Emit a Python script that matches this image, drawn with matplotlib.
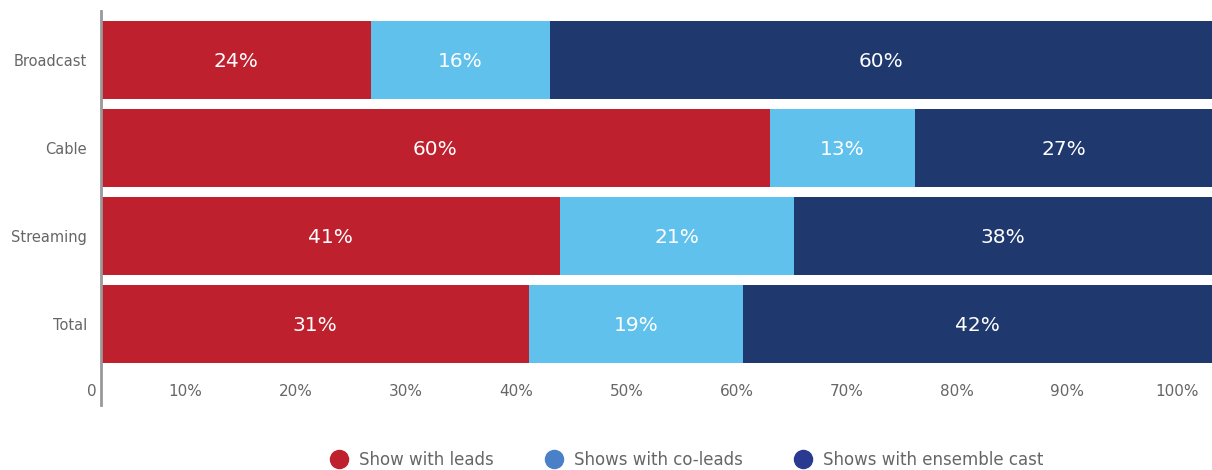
import matplotlib.pyplot as plt
from matplotlib.lines import Line2D

# data
categories = ["Broadcast", "Cable", "Streaming", "Total"]
leads = [24.3, 60.2, 41.3, 38.5]
coleads = [16.1, 13.1, 21.1, 19.3]
ensemble = [59.6, 26.7, 37.6, 42.2]
leads_lbl = ["24%", "60%", "41%", "31%"]
coleads_lbl = ["16%", "13%", "21%", "19%"]
ensemble_lbl = ["60%", "27%", "38%", "42%"]
tick_vals = [0, 10, 20, 30, 40, 50, 60, 70, 80, 90, 100]
series_names = ["Show with leads", "Shows with co-leads", "Shows with ensemble cast"]

RED = "#BE202E"
LIGHT = "#60C1EC"
NAVY = "#1F386D"
GREY = "#666666"

fig = plt.figure(figsize=(12.12, 4.70), dpi=100)
ax = fig.add_axes([101 / 1212, 65 / 470, 1 - 101 / 1212, 394 / 470])

ypos = list(range(len(categories)))
h = 78 / 88
left = [0] * len(categories)
for vals, lbls, col in [(leads, leads_lbl, RED), (coleads, coleads_lbl, LIGHT), (ensemble, ensemble_lbl, NAVY)]:
    ax.barh(ypos, vals, left=left, height=h, color=col, linewidth=0)
    for y, l, v, t in zip(ypos, left, vals, lbls):
        ax.text(l + v / 2, y + 0.02, t, color="white", fontsize=14.5, ha="center", va="center")
    left = [a + b for a, b in zip(left, vals)]

ax.set_xlim(0, 100)
ax.set_ylim(3 + 81 / 88, -49 / 88)
ax.set_xticks([])
ax.set_yticks(ypos)
ax.set_yticklabels(categories, fontsize=10.5, color=GREY)
ax.tick_params(axis="y", length=0, pad=10)
for s in ["top", "right", "bottom"]:
    ax.spines[s].set_visible(False)
ax.spines["left"].set_color("#999999")
ax.spines["left"].set_linewidth(2)

# tick labels sit inside the plot, a bit off the bar scale
trans = ax.get_xaxis_transform()
for t in tick_vals:
    if t == 0:
        ax.text(-0.4, 13 / 394, "0", ha="right", va="center", fontsize=11, color=GREY, transform=trans)
    else:
        ax.text(t * 0.992 - 2.3, 13 / 394, f"{t}%", ha="center", va="center", fontsize=11, color=GREY, transform=trans)

handles = [Line2D([], [], marker="o", linestyle="", markersize=13, color=c)
           for c in [RED, "#4A80C8", "#2A3A90"]]
fig.legend(handles, series_names, loc="center", bbox_to_anchor=(686 / 1212, 10 / 470),
           ncol=3, frameon=False, fontsize=12, labelcolor=GREY, handletextpad=0.6,
           columnspacing=3.0, handlelength=1.2)

fig.savefig("out.png", dpi=100)
